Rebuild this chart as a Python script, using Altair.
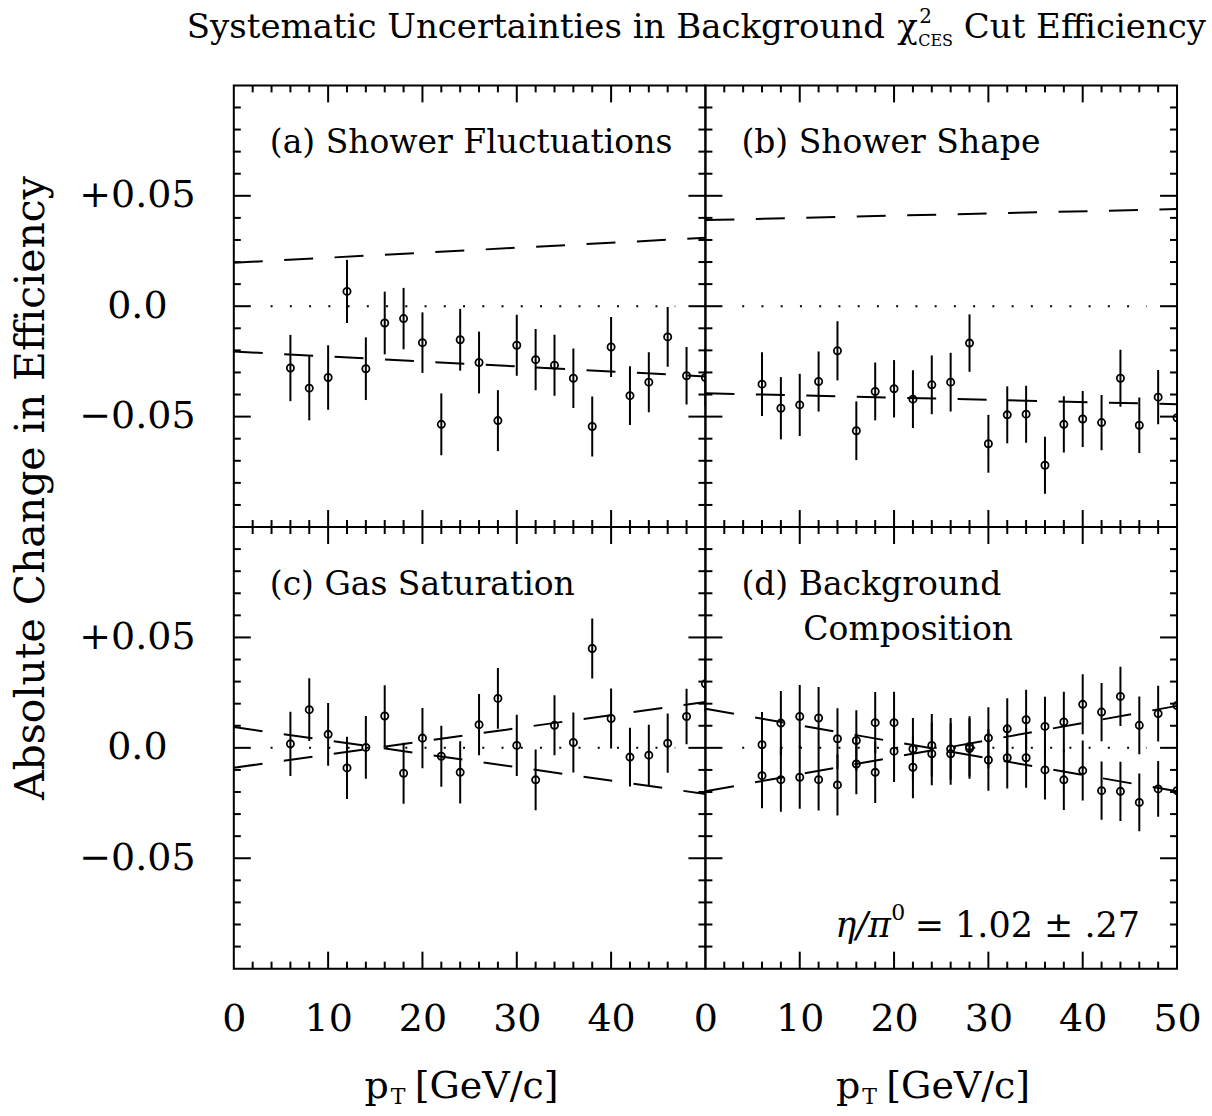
import altair as alt
import pandas as pd

# ---------------- data ----------------
pt = [6, 8, 10, 12, 14, 16, 18, 20, 22, 24, 26, 28, 30, 32, 34, 36, 38, 40, 42, 44, 46, 48, 50]

a_val = [-0.028, -0.0371, -0.0323, 0.0067, -0.0283, -0.0076, -0.0056, -0.0165, -0.0535, -0.0152, -0.0255,
         -0.0518, -0.0177, -0.0242, -0.0267, -0.0326, -0.0545, -0.0185, -0.0405, -0.0344, -0.0139, -0.0315, -0.0323]
a_err = [0.015, 0.0146, 0.0146, 0.0143, 0.0142, 0.0142, 0.0139, 0.0137, 0.014, 0.014, 0.014, 0.0138,
         0.0138, 0.0139, 0.0138, 0.0135, 0.0136, 0.0136, 0.0133, 0.0136, 0.0135, 0.013, 0.013]

b_val = [-0.0353, -0.0462, -0.0447, -0.0341, -0.0202, -0.0564, -0.0386, -0.0374, -0.0421, -0.0356, -0.0344,
         -0.0167, -0.0623, -0.0492, -0.0489, -0.072, -0.0535, -0.0511, -0.0527, -0.0326, -0.0539, -0.0412, -0.0505]
b_err = [0.0144, 0.0141, 0.0141, 0.0136, 0.0134, 0.0133, 0.0131, 0.013, 0.0131, 0.0133, 0.0133, 0.013,
         0.0131, 0.0129, 0.0129, 0.0129, 0.0127, 0.0127, 0.0125, 0.0129, 0.0126, 0.0123, 0.0123]

c_val = [0.0018, 0.0173, 0.0061, -0.0091, 0.0002, 0.0144, -0.0115, 0.0044, -0.0038, -0.0111, 0.0105,
         0.0224, 0.0011, -0.0145, 0.0102, 0.0024, 0.045, 0.0133, -0.0042, -0.0033, 0.0021, 0.0142, 0.029]
c_err = [0.0145, 0.0142, 0.0142, 0.0141, 0.0142, 0.014, 0.0138, 0.0136, 0.0138, 0.0141, 0.0139, 0.0138,
         0.0139, 0.0138, 0.0136, 0.0136, 0.0136, 0.0136, 0.0133, 0.0138, 0.0134, 0.0126, 0.0125]

d_hi = [0.0014, 0.0112, 0.0142, 0.0135, 0.0041, 0.0033, 0.0114, 0.0114, -0.0005, 0.0011, -0.0005, 0.0006,
        0.0045, 0.0086, 0.0127, 0.0097, 0.0117, 0.0197, 0.0162, 0.0233, 0.0102, 0.0155, 0.0192]
d_lo = [-0.0126, -0.0144, -0.0133, -0.0144, -0.0168, -0.0073, -0.0111, -0.0015, -0.0088, -0.0027, -0.0027,
        -0.0003, -0.0055, -0.0045, -0.0045, -0.01, -0.0145, -0.0103, -0.0194, -0.0197, -0.0247, -0.0186, -0.0194]
d_err = [0.0148, 0.0145, 0.0143, 0.014, 0.0138, 0.0137, 0.0139, 0.014, 0.014, 0.0142, 0.014, 0.0137,
         0.0139, 0.0139, 0.0136, 0.0134, 0.0137, 0.0136, 0.0132, 0.0134, 0.0131, 0.0126, 0.0126]

# dashed reference lines (value at pT=0 and pT=50)
line_x = [0, 50]
a_lines = [[0.0197, 0.031], [-0.0205, -0.0318]]
b_lines = [[0.039, 0.044], [-0.0394, -0.0444]]
c_lines = [[0.0094, -0.0209], [-0.009, 0.0208]]
d_lines = [[0.0177, -0.0197], [-0.0197, 0.019]]

zero_span = [3.9, 46.8]

x_major = [10, 20, 30, 40]
x_minor = [2, 4, 6, 8, 12, 14, 16, 18, 22, 24, 26, 28, 32, 34, 36, 38, 42, 44, 46, 48]
y_major = [-0.05, 0.0, 0.05]
y_minor = [-0.09, -0.08, -0.07, -0.06, -0.04, -0.03, -0.02, -0.01,
           0.01, 0.02, 0.03, 0.04, 0.06, 0.07, 0.08, 0.09]
y_labels = ["\u22120.05", "0.0", "+0.05"]
x_labels_left = [0, 10, 20, 30, 40]
x_labels_right = [0, 10, 20, 30, 40, 50]

panel_titles = {
    "a": ["(a) Shower Fluctuations"],
    "b": ["(b) Shower Shape"],
    "c": ["(c) Gas Saturation"],
    "d": ["(d) Background", "Composition"],
}
title_parts = ["Systematic Uncertainties in Background", "\u03c7", "2", "CES", "Cut Efficiency"]
y_title = "Absolute Change in Efficiency"
x_title_parts = ["p", "T", "[GeV/c]"]
ratio_parts = ["\u03b7/\u03c0", "0", "= 1.02 \u00b1 .27"]

# ---------------- styling ----------------
W, H = 472, 442
FONT = "DejaVu Serif"
MAJ, MIN = 17, 7

xs = alt.Scale(domain=[0, 50], nice=False, zero=False)
ys = alt.Scale(domain=[-0.1, 0.1], nice=False, zero=False)

y_label_expr = ("datum.value > 0.001 ? '%s' : (datum.value < -0.001 ? '%s' : '%s')"
                % (y_labels[2], y_labels[0], y_labels[1]))


def x_axis(vals):
    if vals is None:
        return None
    return alt.Axis(values=vals, format="d", ticks=False, tickSize=0, domain=False, grid=False,
                    labelFont=FONT, labelFontSize=38, labelColor="black", labelPadding=32,
                    labelFlush=False, labelOverlap=False, labelBaseline="top", labelAlign="center",
                    title=None)


def y_axis(show):
    if not show:
        return None
    return alt.Axis(values=y_major, labelExpr=y_label_expr, ticks=False, tickSize=0, domain=False,
                    grid=False, labelFont=FONT, labelFontSize=38, labelColor="black", labelPadding=97,
                    labelFlush=False, labelOverlap=False, labelBaseline="middle", labelAlign="center",
                    title=None)


def text_layer(txt, x, y, size, align="left", angle=0, style="normal"):
    kw = dict(font=FONT, fontSize=size, align=align, baseline="alphabetic", color="black",
              fontStyle=style)
    if angle:
        kw["angle"] = angle
    return alt.Chart(pd.DataFrame({"t": [txt]})).mark_text(**kw).encode(
        text="t:N", x=alt.value(x), y=alt.value(y))


def panel(series, lines, labels, xvals, show_y, extras):
    xa = x_axis(xvals)
    ya = y_axis(show_y)

    def X(f):
        return alt.X(f, type="quantitative", scale=xs, axis=xa, title=None)

    def Y(f):
        return alt.Y(f, type="quantitative", scale=ys, axis=ya, title=None)

    rows = []
    for vals, errs in series:
        for x, v, e in zip(pt, vals, errs):
            rows.append({"x": x, "v": v, "lo": v - e, "hi": v + e})
    df = pd.DataFrame(rows)

    lrows = []
    for i, (y0, y1) in enumerate(lines):
        lrows.append({"x": line_x[0], "y": y0, "id": i})
        lrows.append({"x": line_x[1], "y": y1, "id": i})
    ldf = pd.DataFrame(lrows)

    layers = []
    layers.append(alt.Chart(df).mark_rule(strokeWidth=2, color="black", clip=True).encode(
        x=X("x"), y=Y("lo"), y2="hi"))
    layers.append(alt.Chart(df).mark_point(shape="circle", filled=False, size=52, strokeWidth=1.8,
                                           color="black", opacity=1, clip=True).encode(
        x=X("x"), y=Y("v")))
    layers.append(alt.Chart(ldf).mark_line(strokeDash=[29, 21.5], strokeWidth=2, color="black",
                                           clip=True).encode(
        x=X("x"), y=Y("y"), detail="id:N"))
    zdf = pd.DataFrame({"x0": [zero_span[0]], "x1": [zero_span[1]], "y": [0.0]})
    layers.append(alt.Chart(zdf).mark_rule(strokeDash=[2, 17.26], strokeWidth=2, color="black").encode(
        x=X("x0"), x2="x1", y=Y("y")))

    # inward ticks on all four sides
    for vals, ln in ((x_major, MAJ), (x_minor, MIN)):
        tdf = pd.DataFrame({"t": vals})
        layers.append(alt.Chart(tdf).mark_rule(strokeWidth=2, color="black").encode(
            x=X("t"), y=alt.value(H), y2=alt.value(H - ln)))
        layers.append(alt.Chart(tdf).mark_rule(strokeWidth=2, color="black").encode(
            x=X("t"), y=alt.value(0), y2=alt.value(ln)))
    for vals, ln in ((y_major, MAJ), (y_minor, MIN)):
        tdf = pd.DataFrame({"t": vals})
        layers.append(alt.Chart(tdf).mark_rule(strokeWidth=2, color="black").encode(
            y=Y("t"), x=alt.value(0), x2=alt.value(ln)))
        layers.append(alt.Chart(tdf).mark_rule(strokeWidth=2, color="black").encode(
            y=Y("t"), x=alt.value(W), x2=alt.value(W - ln)))

    # panel label(s)
    layers.append(text_layer(labels[0], 36, 68, 33))
    if len(labels) > 1:
        layers.append(text_layer(labels[1], 98, 113, 33))
    layers.extend(extras)
    return alt.layer(*layers).properties(width=W, height=H)


# texts living outside the plot areas (local coords of the panel they are attached to)
title_base = -47
extras_a = [
    text_layer(title_parts[0], -47, title_base, 34),
    text_layer(title_parts[1], 664, title_base, 34),
    text_layer(title_parts[2], 686, title_base - 15, 20),
    text_layer(title_parts[3], 685, title_base + 8, 16),
    text_layer(title_parts[4], 973, title_base, 34, align="right"),
    text_layer(y_title, -190, 403, 41, align="center", angle=270),
]


def x_title_layers():
    return [
        text_layer(x_title_parts[0], 155, 571, 38, align="right"),
        text_layer(x_title_parts[1], 157, 577, 22),
        text_layer(x_title_parts[2], 181, 571, 38),
    ]


extras_d = x_title_layers() + [
    text_layer(ratio_parts[0], 130, 410, 35, style="italic"),
    text_layer(ratio_parts[1], 186, 393, 22),
    text_layer(ratio_parts[2], 435, 410, 35, align="right"),
]

pa = panel([(a_val, a_err)], a_lines, panel_titles["a"], None, True, extras_a)
pb = panel([(b_val, b_err)], b_lines, panel_titles["b"], None, False, [])
pc = panel([(c_val, c_err)], c_lines, panel_titles["c"], x_labels_left, True, x_title_layers())
pd_ = panel([(d_hi, d_err), (d_lo, d_err)], d_lines, panel_titles["d"], x_labels_right, False, extras_d)

chart = alt.concat(pa, pb, pc, pd_, columns=2, spacing=0, bounds="flush").properties(
    padding={"left": 10, "top": 6, "right": 5, "bottom": 5},
    background="white",
).configure_view(stroke="black", strokeWidth=2).configure_concat(spacing=0)

chart.save("out.html", embed_options={"renderer": "svg", "actions": False})
